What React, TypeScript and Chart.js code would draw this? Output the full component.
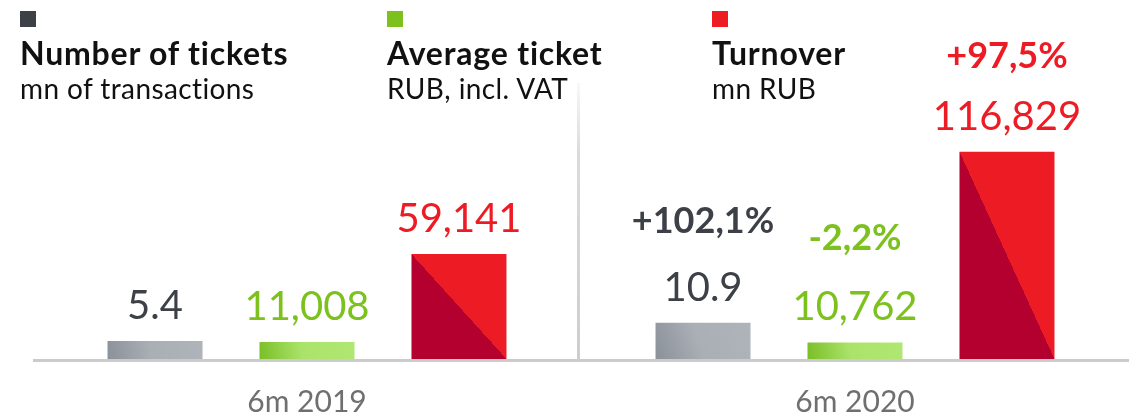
import React, { useEffect, useRef } from "react";
import { Chart, registerables } from "chart.js";

Chart.register(...registerables);

// ---- data ----
const categories = ["6m 2019", "6m 2020"];
const seriesNames = ["Number of tickets", "Average ticket", "Turnover"];
const seriesUnits = ["mn of transactions", "RUB, incl. VAT", "mn RUB"];
const ticketsCount = [5.4, 10.9];
const averageTicket = [11008, 10762];
const turnover = [59141, 116829];
const changeLabels = ["+102,1%", "-2,2%", "+97,5%"];

// ---- styles ----
const FONT = "Lato, 'Open Sans', 'DejaVu Sans', sans-serif";
const legendColors = ["#3D4147", "#7DC11F", "#ED1C24"];
const labelColors = ["#3D4147", "#7DC11F", "#ED1C24"];
const legendLefts = [20, 387, 712];
const pctOffsets = [90, 92, 84];
const CAT_PCT = 0.832;
const BAR_PCT = 0.625;
const axisIds = ["yTickets", "yAvg", "yTurnover"];

function barGeom(chart: any, dsIndex: number, dataIndex: number, value: number, axisId: string) {
  const xs = chart.scales.x;
  const ys = chart.scales[axisId];
  const catW = (xs.right - xs.left) / categories.length;
  const slot = (catW * CAT_PCT) / 3;
  const cx = xs.getPixelForValue(dataIndex) + (dsIndex - 1) * slot;
  const w = slot * BAR_PCT;
  return { x0: cx - w / 2, x1: cx + w / 2, top: ys.getPixelForValue(value), base: ys.getPixelForValue(0) };
}

function makeFill(kind: "gray" | "green" | "red", dsIndex: number, axisId: string, fallback: string) {
  return (c: any) => {
    const chart = c.chart;
    if (!chart.chartArea || c.dataIndex === undefined || !chart.scales.x || !chart.scales[axisId]) return fallback;
    const v = c.raw as number;
    const g = barGeom(chart, dsIndex, c.dataIndex, v, axisId);
    const ctx = chart.ctx as CanvasRenderingContext2D;
    if (kind === "red") {
      const w = g.x1 - g.x0;
      const h = g.base - g.top;
      const cx = (g.x0 + g.x1) / 2;
      const cy = (g.top + g.base) / 2;
      const grad = ctx.createLinearGradient(cx - h / 2, cy + w / 2, cx + h / 2, cy - w / 2);
      grad.addColorStop(0, "#B3002F");
      grad.addColorStop(0.5, "#B3002F");
      grad.addColorStop(0.5, "#ED1C24");
      grad.addColorStop(1, "#ED1C24");
      return grad;
    }
    const grad = ctx.createLinearGradient(g.x0, g.base, g.x1, g.top);
    if (kind === "gray") {
      grad.addColorStop(0, "#8B9199");
      grad.addColorStop(0.45, "#AAAEB5");
      grad.addColorStop(1, "#AFB3BA");
    } else {
      grad.addColorStop(0, "#79BE26");
      grad.addColorStop(0.45, "#ABE36A");
      grad.addColorStop(1, "#B0E772");
    }
    return grad;
  };
}

const decorPlugin = {
  id: "decor",
  beforeDatasetsDraw(chart: any) {
    const ctx = chart.ctx as CanvasRenderingContext2D;
    const a = chart.chartArea;
    const xs = chart.scales.x;
    ctx.save();
    // baseline
    ctx.fillStyle = "#CBCBCB";
    ctx.fillRect(a.left, a.bottom, a.right - a.left, 3);
    // divider between groups
    const mid = (xs.getPixelForValue(0) + xs.getPixelForValue(1)) / 2;
    const topY = 83;
    const grad = ctx.createLinearGradient(0, topY, 0, a.bottom);
    grad.addColorStop(0, "rgba(210,210,210,0.15)");
    grad.addColorStop(0.25, "rgba(210,210,210,0.8)");
    grad.addColorStop(1, "rgba(205,205,205,1)");
    ctx.fillStyle = grad;
    ctx.fillRect(Math.round(mid) - 4, topY, 3, a.bottom + 3 - topY);
    ctx.restore();
  },
  afterDatasetsDraw(chart: any) {
    const ctx = chart.ctx as CanvasRenderingContext2D;
    const xs = chart.scales.x;
    ctx.save();
    ctx.textAlign = "center";
    ctx.textBaseline = "alphabetic";
    chart.data.datasets.forEach((ds: any, di: number) => {
      const meta = chart.getDatasetMeta(di);
      meta.data.forEach((el: any, i: number) => {
        const { x, y } = el.getProps(["x", "y"], true);
        const v = ds.data[i] as number;
        const txt = di === 0 ? v.toFixed(1) : v.toLocaleString("en-US");
        ctx.fillStyle = labelColors[di];
        ctx.font = `normal 40px ${FONT}`;
        ctx.fillText(txt, x, y - 22);
        if (i === ds.data.length - 1) {
          ctx.font = `bold 36px ${FONT}`;
          ctx.fillText(changeLabels[di], x, y - pctOffsets[di]);
        }
      });
    });
    ctx.fillStyle = "#6F6F6F";
    ctx.font = `normal 30px ${FONT}`;
    categories.forEach((c, i) => {
      ctx.fillText(c, xs.getPixelForValue(i), 412);
    });
    ctx.restore();
  },
};

export default function App() {
  const canvasRef = useRef<HTMLCanvasElement | null>(null);

  useEffect(() => {
    if (!canvasRef.current) return;
    const chart = new Chart(canvasRef.current, {
      type: "bar",
      data: {
        labels: categories,
        datasets: [
          {
            label: seriesNames[0],
            data: ticketsCount,
            yAxisID: axisIds[0],
            backgroundColor: makeFill("gray", 0, axisIds[0], "#A9ADB4"),
            borderWidth: 0,
            barPercentage: BAR_PCT,
            categoryPercentage: CAT_PCT,
          },
          {
            label: seriesNames[1],
            data: averageTicket,
            yAxisID: axisIds[1],
            backgroundColor: makeFill("green", 1, axisIds[1], "#ABE36A"),
            borderWidth: 0,
            barPercentage: BAR_PCT,
            categoryPercentage: CAT_PCT,
          },
          {
            label: seriesNames[2],
            data: turnover,
            yAxisID: axisIds[2],
            backgroundColor: makeFill("red", 2, axisIds[2], "#ED1C24"),
            borderWidth: 0,
            barPercentage: BAR_PCT,
            categoryPercentage: CAT_PCT,
          },
        ],
      },
      options: {
        animation: false,
        responsive: true,
        maintainAspectRatio: false,
        layout: { padding: { left: 33, right: 0, top: 100, bottom: 56 } },
        plugins: { legend: { display: false }, tooltip: { enabled: false } },
        scales: {
          x: { display: false, offset: true },
          yTickets: { display: false, min: 0, max: 78 },
          yAvg: { display: false, min: 0, max: 168000 },
          yTurnover: { display: false, min: 0, max: 146000 },
        },
      },
      plugins: [decorPlugin],
    });
    return () => chart.destroy();
  }, []);

  return (
    <div style={{ position: "absolute", left: 0, top: 0, width: 1129, height: 415, background: "#fff", overflow: "hidden" }}>
      <canvas ref={canvasRef} style={{ position: "absolute", left: 0, top: 0 }} />
      {seriesNames.map((name, i) => (
        <div key={name} style={{ position: "absolute", left: legendLefts[i], top: 0, fontFamily: FONT, color: "#111" }}>
          <div style={{ position: "absolute", left: 0, top: 11, width: 16, height: 16, background: legendColors[i] }} />
          <div style={{ position: "absolute", left: 0, top: 37, fontSize: 32, fontWeight: "bold", letterSpacing: 0.8, lineHeight: 1, whiteSpace: "nowrap" }}>
            {name}
          </div>
          <div style={{ position: "absolute", left: 0, top: 74, fontSize: 28, fontWeight: "normal", letterSpacing: 0.4, lineHeight: 1, whiteSpace: "nowrap" }}>
            {seriesUnits[i]}
          </div>
        </div>
      ))}
    </div>
  );
}
